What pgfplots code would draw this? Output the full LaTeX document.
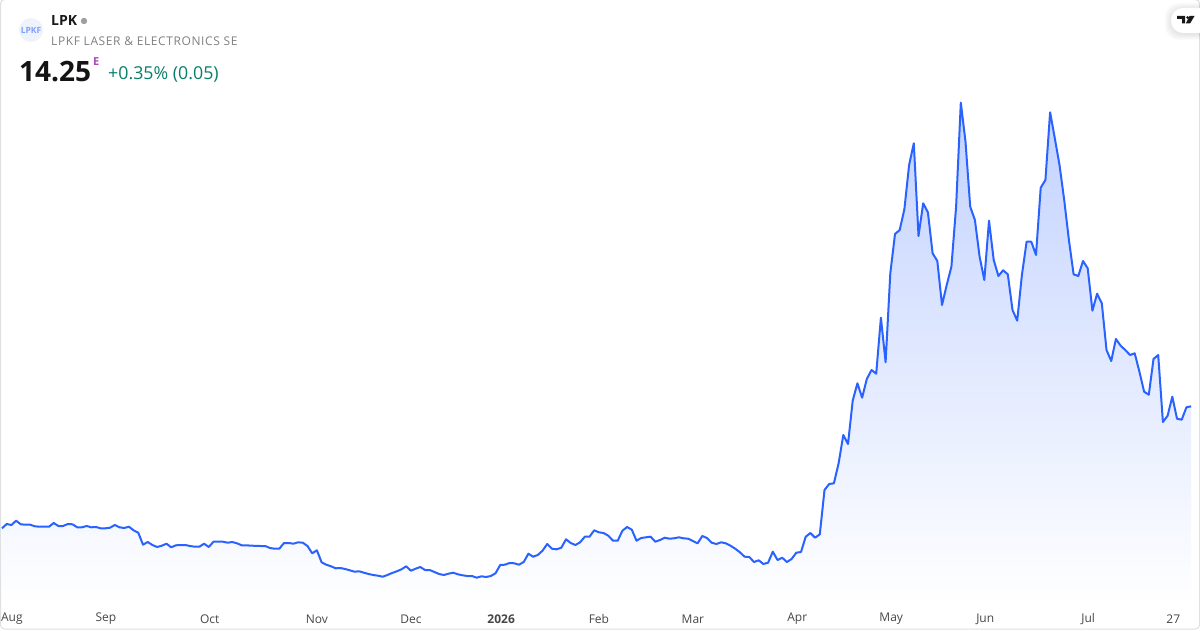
\documentclass[border=0pt]{standalone}
\usepackage{pgfplots}
\usepackage{pgfplotstable}
\pgfplotsset{compat=1.18}
\usepackage{fontspec}
\setmainfont{Open Sans}
\definecolor{linec}{HTML}{2962FF}
\definecolor{fillc}{HTML}{C2D2FF}
\definecolor{logobg}{HTML}{EEF2FB}
\definecolor{purp}{HTML}{AB47BC}
\definecolor{chg}{HTML}{087F6A}
\pgfplotstableread{
v
11.804
11.89
11.87
11.956
11.884
11.876
11.876
11.844
11.836
11.836
11.836
11.91
11.85
11.85
11.89
11.884
11.824
11.824
11.85
11.824
11.83
11.804
11.804
11.816
11.87
11.824
11.81
11.836
11.764
11.716
11.476
11.53
11.47
11.43
11.456
11.496
11.424
11.464
11.47
11.47
11.45
11.436
11.436
11.496
11.43
11.536
11.536
11.536
11.516
11.53
11.504
11.464
11.464
11.456
11.454
11.45
11.45
11.41
11.396
11.396
11.51
11.51
11.496
11.524
11.516
11.45
11.304
11.364
11.124
11.076
11.044
11.004
11.01
10.99
10.964
10.936
10.944
10.916
10.89
10.87
10.856
10.836
10.87
10.91
10.944
10.984
11.044
10.956
10.996
11.03
10.97
10.97
10.93
10.89
10.87
10.896
10.916
10.884
10.864
10.85
10.85
10.816
10.844
10.83
10.85
10.904
11.07
11.076
11.11
11.104
11.076
11.13
11.296
11.236
11.27
11.356
11.49
11.396
11.384
11.416
11.584
11.51
11.47
11.524
11.636
11.636
11.764
11.724
11.71
11.656
11.556
11.556
11.756
11.83
11.776
11.556
11.61
11.624
11.636
11.536
11.57
11.616
11.596
11.604
11.624
11.604
11.596
11.55
11.504
11.65
11.61
11.516
11.49
11.524
11.504
11.456
11.396
11.324
11.236
11.23
11.13
11.164
11.09
11.116
11.336
11.17
11.216
11.13
11.19
11.316
11.33
11.636
11.71
11.616
11.684
12.57
12.69
12.704
13.104
13.67
13.49
14.356
14.704
14.416
14.79
14.97
14.896
16.016
15.124
16.904
17.69
17.77
18.19
19.07
19.504
17.65
18.304
18.124
17.304
17.15
16.27
16.67
17.036
18.236
20.316
19.536
18.236
17.97
17.236
16.77
17.956
17.17
16.85
16.964
16.884
16.17
15.956
16.87
17.536
17.536
17.27
18.616
18.77
20.124
19.604
19.07
18.37
17.57
16.884
16.85
17.15
17.004
16.156
16.496
16.304
15.37
15.15
15.59
15.456
15.37
15.27
15.304
14.936
14.536
14.476
15.19
15.27
13.93
14.056
14.436
13.996
13.976
14.224
14.244
}\pricetable
\begin{document}
\begin{tikzpicture}[x=1pt,y=1pt]
\path[use as bounding box] (0,0) rectangle (1200,630);
\fill[white] (0,0) rectangle (1200,630);
\begin{axis}[
  at={(0,0)},anchor=south west,
  width=1200pt,height=630pt,scale only axis,
  xmin=-0.4255,xmax=254.894,ymin=9.77,ymax=22.37,
  axis line style={draw=none},
  axis on top,
  major tick length=0pt,
  ytick=\empty,
  xtick={2.1,22.1,44.2,67,87,106.2,127,147,169.2,189.2,209.2,231.1,249.2},
  xticklabels={Aug,Sep,Oct,Nov,Dec,\textbf{2026},Feb,Mar,Apr,May,Jun,Jul,27},
  x tick label style={font=\fontsize{12}{14}\selectfont,text=black!72,anchor=center,yshift=11pt},
  clip=true,
]
\addplot[draw=none,shade,top color=fillc,bottom color=white,shading angle=0] table[x expr=\coordindex,y=v] {\pricetable} -- (axis cs:253,10.29) -- (axis cs:0,10.29) -- cycle;
\addplot[color=linec,line width=2pt,line join=round,mark=none] table[x expr=\coordindex,y=v] {\pricetable};
\end{axis}
\draw[black!12,line width=1pt,rounded corners=4pt] (0.5,1) rectangle (1199.5,630.5);
% logo
\fill[logobg] (31,600) circle (12);
\node[font=\fontsize{8.5}{9}\selectfont\bfseries,text=linec!60] at (31,600) {LPKF};
% header
\node[anchor=west,inner sep=0pt,font=\fontsize{14}{16}\selectfont\bfseries,text=black!90] at (51,609) {LPK};
\fill[black!38] (84,609) circle (3.2);
\node[anchor=west,inner sep=0pt,font=\fontsize{12}{14}\selectfont\addfontfeature{LetterSpace=5},text=black!50] at (51,588.8) {LPKF LASER \& ELECTRONICS SE};
\node[anchor=west,inner sep=0pt,font=\fontsize{28}{30}\selectfont\bfseries,text=black!92] at (19,558.5) {14.25};
\node[anchor=west,inner sep=0pt,font=\fontsize{11}{12}\selectfont\bfseries,text=purp] at (93,568.5) {E};
\node[anchor=west,inner sep=0pt,font=\fontsize{17.8}{20}\selectfont,text=chg] at (108,555.5) {+0.35\% (0.05)};
% TV badge
\begin{scope}
\clip (1150,585) rectangle (1200,630);
\foreach \g in {6,5,4,3,2,1}{\fill[black,opacity=0.014,rounded corners=13pt] (1171-\g,597-\g-1) rectangle (1215+\g,622+\g-1);}
\fill[white,rounded corners=12pt] (1171,597) rectangle (1215,622);
\end{scope}
\fill[black!90] (1177,614) -- (1185,614) -- (1185,606.5) -- (1182,606.5) -- (1182,611) -- (1177,611) -- cycle;
\fill[black!90] (1187.6,612.4) circle (1.5);
\fill[black!90] (1189.5,614) -- (1194.5,614) -- (1190,606.5) -- (1185.8,606.5) -- cycle;
\end{tikzpicture}
\end{document}
